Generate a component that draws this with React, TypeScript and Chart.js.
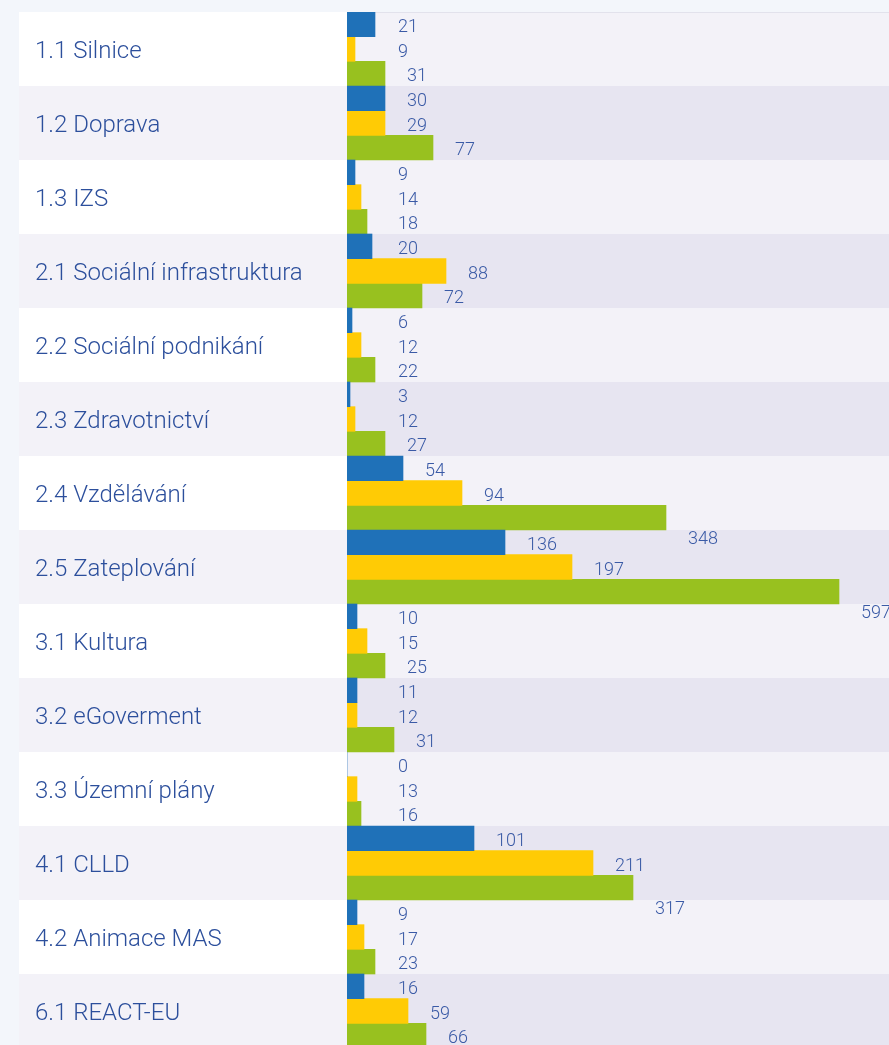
import React, { useEffect, useRef } from "react";
import { Chart, registerables } from "chart.js";

Chart.register(...registerables);

const categories = [
  "1.1 Silnice",
  "1.2 Doprava",
  "1.3 IZS",
  "2.1 Sociální infrastruktura",
  "2.2 Sociální podnikání",
  "2.3 Zdravotnictví",
  "2.4 Vzdělávání",
  "2.5 Zateplování",
  "3.1 Kultura",
  "3.2 eGoverment",
  "3.3 Územní plány",
  "4.1 CLLD",
  "4.2 Animace MAS",
  "6.1 REACT-EU",
];

// values printed next to the bars
const blueLabels = [21, 30, 9, 20, 6, 3, 54, 136, 10, 11, 0, 101, 9, 16];
const yellowLabels = [9, 29, 14, 88, 12, 12, 94, 197, 15, 12, 13, 211, 17, 59];
const greenLabels = [31, 77, 18, 72, 22, 27, 348, 597, 25, 31, 16, 317, 23, 66];

// bar measure (hidden axis)
const blueBars = [28, 38, 8, 25, 5, 3, 56, 158, 10, 10, 0, 127, 10, 17];
const yellowBars = [8, 38, 14, 99, 14, 8, 115, 225, 20, 10, 10, 246, 17, 61];
const greenBars = [38, 86, 20, 75, 28, 38, 319, 492, 38, 47, 14, 286, 28, 79];

const axisMax = 542;

const COLORS = {
  blue: "#1f71b8",
  yellow: "#ffcb05",
  green: "#98c11f",
  text: "#2c4f9c",
  value: "#3a5aa6",
  labelOdd: "#ffffff",
  labelEven: "#f3f2f8",
  plotOdd: "#f3f2f8",
  plotEven: "#e7e5f1",
  page: "#f3f6fb",
};

const bandPlugin = {
  id: "bands",
  beforeDraw(chart: any) {
    const { ctx, chartArea, scales } = chart;
    const y = scales.y;
    const n = categories.length;
    const h = (chartArea.bottom - chartArea.top) / n;
    ctx.save();
    for (let i = 0; i < n; i++) {
      const cy = y.getPixelForValue(i);
      const top = cy - h / 2;
      ctx.fillStyle = i % 2 === 0 ? COLORS.labelOdd : COLORS.labelEven;
      ctx.fillRect(0, top, chartArea.left, h);
      ctx.fillStyle = i % 2 === 0 ? COLORS.plotOdd : COLORS.plotEven;
      ctx.fillRect(chartArea.left, top, chart.width - chartArea.left, h);
    }
    ctx.fillStyle = "#e2e2ec";
    ctx.fillRect(chartArea.left, chartArea.top, chart.width - chartArea.left, 1);
    ctx.restore();
  },
};

const valueLabelPlugin = {
  id: "valueLabels",
  afterDatasetsDraw(chart: any) {
    const { ctx, chartArea } = chart;
    const labelSets = [blueLabels, yellowLabels, greenLabels];
    ctx.save();
    ctx.font = "300 18px Roboto";
    ctx.fillStyle = COLORS.value;
    ctx.textAlign = "left";
    ctx.textBaseline = "middle";
    chart.data.datasets.forEach((ds: any, di: number) => {
      const meta = chart.getDatasetMeta(di);
      meta.data.forEach((bar: any, i: number) => {
        const val = labelSets[di][i];
        const x = Math.max(bar.x + 22, chartArea.left + 51);
        let yy = bar.y + 3;
        // long green bars: label pushed below the bar
        if (di === 2 && val > 300) yy += 19;
        ctx.fillText(String(val), x, yy);
      });
    });
    ctx.restore();
  },
};

export default function App() {
  const ref = useRef<HTMLCanvasElement>(null);

  useEffect(() => {
    if (!ref.current) return;
    const chart = new Chart(ref.current, {
      type: "bar",
      data: {
        labels: categories,
        datasets: [
          { label: "blue", data: blueBars, backgroundColor: COLORS.blue },
          { label: "yellow", data: yellowBars, backgroundColor: COLORS.yellow },
          { label: "green", data: greenBars, backgroundColor: COLORS.green },
        ],
      },
      options: {
        indexAxis: "y",
        animation: false,
        responsive: false,
        maintainAspectRatio: false,
        datasets: {
          bar: { barPercentage: 1, categoryPercentage: 1, borderWidth: 0 },
        },
        layout: { padding: { left: 16, right: 0, top: 0, bottom: 0 } },
        plugins: {
          legend: { display: false },
          tooltip: { enabled: false },
        },
        scales: {
          x: { display: false, min: 0, max: axisMax },
          y: {
            grid: { display: false, drawTicks: false },
            border: { display: false },
            ticks: {
              crossAlign: "far",
              padding: 0,
              labelOffset: 3,
              color: COLORS.text,
              font: { family: "Roboto", size: 24, weight: "300" },
            },
            afterFit(scale: any) {
              scale.width = 312;
              scale.paddingTop = 0;
              scale.paddingBottom = 0;
            },
          },
        },
      },
      plugins: [bandPlugin, valueLabelPlugin],
    } as any);
    return () => chart.destroy();
  }, []);

  return (
    <div
      style={{
        position: "fixed",
        left: 0,
        top: 0,
        width: 889,
        height: 1045,
        overflow: "hidden",
        background: COLORS.page,
      }}
    >
      <canvas
        ref={ref}
        width={870}
        height={1036}
        style={{ position: "absolute", left: 19, top: 12, width: 870, height: 1036 }}
      />
    </div>
  );
}
